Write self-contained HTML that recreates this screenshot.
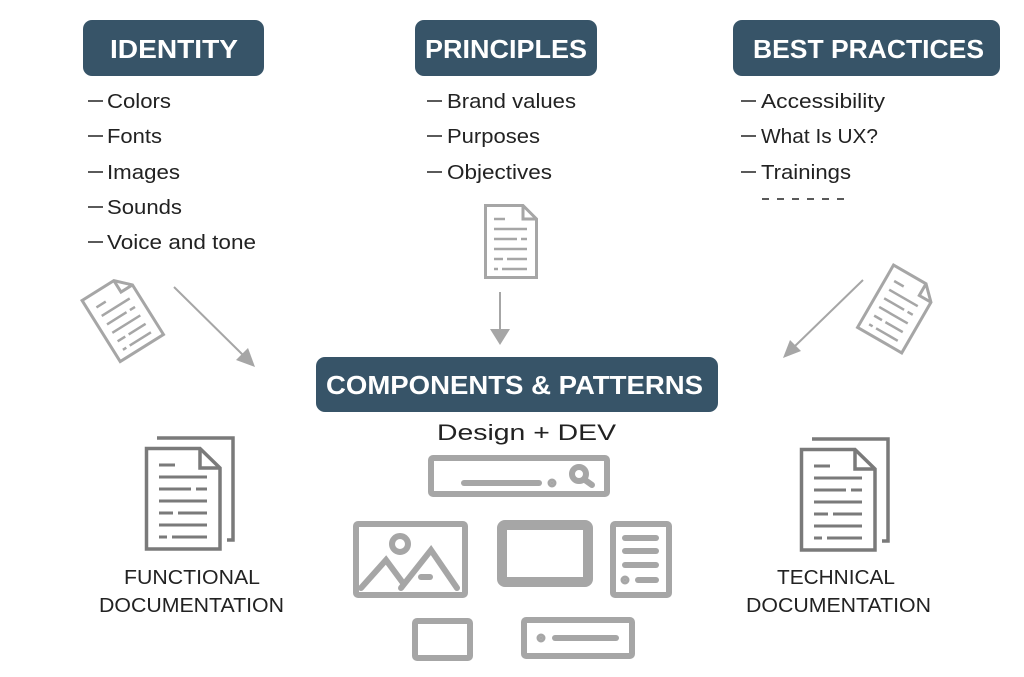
<!DOCTYPE html>
<html><head><meta charset="utf-8"><style>
html,body{margin:0;padding:0;background:#fff;}
svg{display:block;}
text{font-family:"Liberation Sans",sans-serif;}
</style></head><body>
<svg width="1024" height="677" viewBox="0 0 1024 677" xmlns="http://www.w3.org/2000/svg">
<defs>
<g id="doc" fill="none" stroke="#a6a6a6" stroke-width="3">
  <path d="M1.5 1.5 H39 L52.5 15 V73.5 H1.5 Z"/>
  <path d="M39 1.5 V15 H52.5"/>
  <g stroke-width="2.5">
  <line x1="10" y1="15" x2="21" y2="15"/>
  <line x1="10" y1="25" x2="43" y2="25"/>
  <line x1="10" y1="35" x2="33" y2="35"/><line x1="37" y1="35" x2="43" y2="35"/>
  <line x1="10" y1="45" x2="43" y2="45"/>
  <line x1="10" y1="55" x2="19" y2="55"/><line x1="23" y1="55" x2="43" y2="55"/>
  <line x1="10" y1="65" x2="14" y2="65"/><line x1="18" y1="65" x2="43" y2="65"/>
  </g>
</g>
<g id="ddoc" fill="none" stroke="#7a7a7a" stroke-width="3.5">
  <path d="M12 -9 H88 V93 H82"/>
  <path d="M1.5 1.5 H55 L75 21 V102 H1.5 Z"/>
  <path d="M55 1.5 V21 H75"/>
  <g stroke-width="3">
  <line x1="14" y1="18" x2="30" y2="18"/>
  <line x1="14" y1="30" x2="62" y2="30"/>
  <line x1="14" y1="42" x2="46" y2="42"/><line x1="51" y1="42" x2="62" y2="42"/>
  <line x1="14" y1="54" x2="62" y2="54"/>
  <line x1="14" y1="66" x2="28" y2="66"/><line x1="33" y1="66" x2="62" y2="66"/>
  <line x1="14" y1="78" x2="62" y2="78"/>
  <line x1="14" y1="90" x2="22" y2="90"/><line x1="27" y1="90" x2="62" y2="90"/>
  </g>
</g>
</defs>

<!-- Header boxes -->
<g fill="#fff" font-size="26" font-weight="bold">
<rect x="83" y="20" width="181" height="56" rx="9" fill="#375468"/>
<text x="110" y="58" textLength="128" lengthAdjust="spacingAndGlyphs">IDENTITY</text>
<rect x="415" y="20" width="182" height="56" rx="9" fill="#375468"/>
<text x="425" y="58" textLength="162" lengthAdjust="spacingAndGlyphs">PRINCIPLES</text>
<rect x="733" y="20" width="267" height="56" rx="9" fill="#375468"/>
<text x="753" y="58" textLength="231" lengthAdjust="spacingAndGlyphs">BEST PRACTICES</text>
<rect x="316" y="357" width="402" height="55" rx="9" fill="#375468"/>
<text x="326" y="394" textLength="377" lengthAdjust="spacingAndGlyphs">COMPONENTS &amp; PATTERNS</text>
</g>

<!-- Lists -->
<g stroke="#222" stroke-width="1.5">
<line x1="88" y1="101" x2="103" y2="101"/><line x1="88" y1="136" x2="103" y2="136"/>
<line x1="88" y1="172" x2="103" y2="172"/><line x1="88" y1="207" x2="103" y2="207"/>
<line x1="88" y1="242" x2="103" y2="242"/>
<line x1="427" y1="101" x2="442" y2="101"/><line x1="427" y1="136" x2="442" y2="136"/>
<line x1="427" y1="172" x2="442" y2="172"/>
<line x1="741" y1="101" x2="756" y2="101"/><line x1="741" y1="136" x2="756" y2="136"/>
<line x1="741" y1="172" x2="756" y2="172"/>
</g>
<g font-size="20" fill="#222">
<text x="107" y="108" textLength="64" lengthAdjust="spacingAndGlyphs">Colors</text>
<text x="107" y="143" textLength="55" lengthAdjust="spacingAndGlyphs">Fonts</text>
<text x="107" y="179" textLength="73" lengthAdjust="spacingAndGlyphs">Images</text>
<text x="107" y="214" textLength="75" lengthAdjust="spacingAndGlyphs">Sounds</text>
<text x="107" y="249" textLength="149" lengthAdjust="spacingAndGlyphs">Voice and tone</text>
<text x="447" y="108" textLength="129" lengthAdjust="spacingAndGlyphs">Brand values</text>
<text x="447" y="143" textLength="93" lengthAdjust="spacingAndGlyphs">Purposes</text>
<text x="447" y="179" textLength="105" lengthAdjust="spacingAndGlyphs">Objectives</text>
<text x="761" y="108" textLength="124" lengthAdjust="spacingAndGlyphs">Accessibility</text>
<text x="761" y="143" textLength="117" lengthAdjust="spacingAndGlyphs">What Is UX?</text>
<text x="761" y="179" textLength="90" lengthAdjust="spacingAndGlyphs">Trainings</text>
<text x="437" y="440" font-size="22" textLength="179" lengthAdjust="spacingAndGlyphs">Design + DEV</text>
<text x="124" y="584" textLength="136" lengthAdjust="spacingAndGlyphs">FUNCTIONAL</text>
<text x="99" y="612" textLength="185" lengthAdjust="spacingAndGlyphs">DOCUMENTATION</text>
<text x="777" y="584" textLength="118" lengthAdjust="spacingAndGlyphs">TECHNICAL</text>
<text x="746" y="612" textLength="185" lengthAdjust="spacingAndGlyphs">DOCUMENTATION</text>
</g>
<line x1="762" y1="199" x2="845" y2="199" stroke="#222" stroke-width="1.5" stroke-dasharray="7,8"/>

<!-- Docs -->
<use href="#doc" x="484" y="204"/>
<use href="#doc" transform="translate(80,300) rotate(-32)"/>
<use href="#doc" transform="translate(893,263) rotate(30)"/>
<use href="#ddoc" x="145" y="447"/>
<use href="#ddoc" x="800" y="448"/>

<!-- Arrows -->
<g stroke="#a6a6a6" stroke-width="2" fill="#a6a6a6">
<line x1="174" y1="287" x2="244" y2="356"/>
<polygon points="255,367 236,360 248,348" stroke="none"/>
<line x1="500" y1="292" x2="500" y2="331"/>
<polygon points="490,329 510,329 500,345" stroke="none"/>
<line x1="863" y1="280" x2="794" y2="347"/>
<polygon points="783,358 790,340 801,351" stroke="none"/>
</g>

<!-- Component wireframes -->
<g fill="none" stroke="#a6a6a6" stroke-width="6" stroke-linecap="round">
<rect x="431" y="458" width="176" height="36" rx="2"/>
<line x1="464" y1="483" x2="539" y2="483"/>
<circle cx="552" cy="483" r="1.5" fill="#a6a6a6"/>
<circle cx="579" cy="474" r="7"/>
<line x1="585" y1="480" x2="592" y2="485"/>

<rect x="356" y="524" width="109" height="71" rx="2"/>
<circle cx="400" cy="544" r="8"/>
<polyline points="361,588 386,560 403,583"/>
<polyline points="401,588 431,550 457,588"/>
<line x1="421" y1="577" x2="430" y2="577"/>

<rect x="502" y="525" width="86" height="57" rx="3" stroke-width="10"/>

<rect x="613" y="524" width="56" height="71" rx="2"/>
<line x1="625" y1="538" x2="656" y2="538"/>
<line x1="625" y1="551" x2="656" y2="551"/>
<line x1="625" y1="565" x2="656" y2="565"/>
<circle cx="625" cy="580" r="1.5" fill="#a6a6a6"/>
<line x1="638" y1="580" x2="656" y2="580"/>

<rect x="415" y="621" width="55" height="37" rx="2"/>
<rect x="524" y="620" width="108" height="36" rx="2"/>
<circle cx="541" cy="638" r="1.5" fill="#a6a6a6"/>
<line x1="555" y1="638" x2="616" y2="638"/>
</g>
</svg>
</body></html>
